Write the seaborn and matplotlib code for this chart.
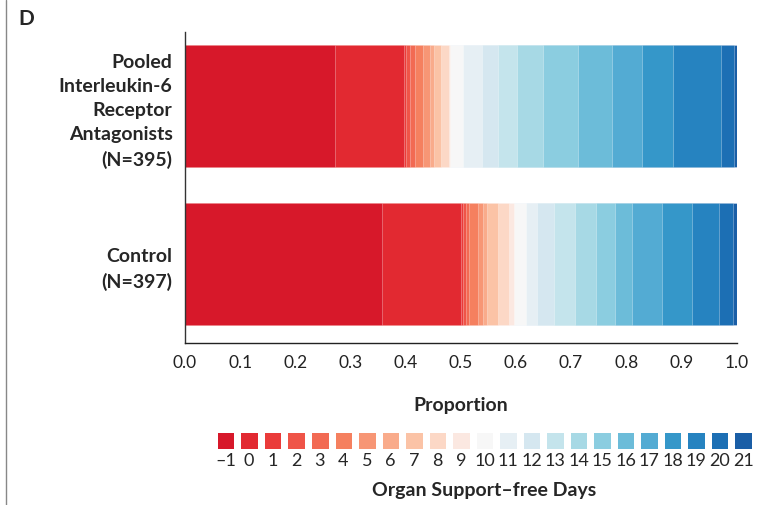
"""
堆叠条形图: 器官支持-free天数分布 (面板 D)
"""
import numpy as np
import pandas as pd
import seaborn as sns
import matplotlib
matplotlib.use('Agg')
import matplotlib.pyplot as plt
from matplotlib.colors import ListedColormap
from matplotlib.lines import Line2D

# ==================== 数据 ====================
groups = ["Pooled\nInterleukin-6\nReceptor\nAntagonists\n(N=395)", "Control\n(N=397)"]
days = list(range(-1, 22))
day_labels = ["–1"] + [str(d) for d in range(0, 22)]

# 每个天数类别所占比例
prop_il6 = [0.2725, 0.1237, 0.0045, 0.0067, 0.0102, 0.0140, 0.0121, 0.0078,
            0.0122, 0.0141, 0.0027, 0.0241, 0.0334, 0.0301, 0.0334, 0.0482,
            0.0634, 0.0617, 0.0533, 0.0562, 0.0876, 0.0241, 0.0040]
prop_control = [0.3567, 0.1438, 0.0042, 0.0043, 0.0065, 0.0163, 0.0080, 0.0083,
                0.0200, 0.0194, 0.0096, 0.0212, 0.0205, 0.0303, 0.0381, 0.0375,
                0.0350, 0.0314, 0.0533, 0.0544, 0.0495, 0.0259, 0.0058]

# ==================== 样式 ====================
colors = ["#d7182a", "#e22931", "#ea3b3a", "#ef5448", "#f26a53", "#f5805f",
          "#f79675", "#f9ab8b", "#fbc3a6", "#fcd8c6", "#fbe8e1", "#f7f7f7",
          "#e6eff4", "#d5e7f0", "#c4e4ec", "#a7d9e5", "#8bcde0", "#6cbcd9",
          "#53abd3", "#3597c9", "#2683c0", "#1c6fb4", "#1a5ea6"]

sns.set_style("white")
plt.rcParams['font.family'] = ['Lato', 'DejaVu Sans']
plt.rcParams['axes.linewidth'] = 1.0

# 长表 + 累积比例
df = pd.DataFrame({
    "group": np.repeat(groups, len(days)),
    "day": days * 2,
    "prop": prop_il6 + prop_control,
})
df["cum"] = df.groupby("group", sort=False)["prop"].cumsum()

fig = plt.figure(figsize=(7.69, 5.05), dpi=100)
ax = fig.add_axes([185 / 769, 1 - 343 / 505, 551.5 / 769, 311 / 505])

# 从最后一类开始画, 较短的累积条覆盖在上面
for i in reversed(range(len(days))):
    sub = df[df["day"] == days[i]]
    sns.barplot(data=sub, x="cum", y="group", order=groups, color=colors[i],
                orient="h", width=0.772, saturation=1, ax=ax,
                edgecolor=(1, 1, 1, 0.35), linewidth=0.6)

ax.set_xlim(0, 1)
ax.set_ylim(1.5, -0.468)
ax.set_xticks(np.linspace(0, 1, 11))
ax.set_xticklabels([f"{v:.1f}" for v in np.linspace(0, 1, 11)], fontsize=12.5)
ax.set_yticks([0, 1])
ax.set_yticklabels(groups, fontsize=14, fontweight='bold', multialignment='right',
                   linespacing=1.5)
ax.tick_params(axis='y', length=0, pad=9)
ax.tick_params(axis='x', length=5, width=1, direction='out', pad=4, colors='#222222')
ax.set_ylabel("")
ax.set_xlabel("Proportion", fontsize=14, fontweight='bold', labelpad=18)
sns.despine(ax=ax, top=True, right=True)
ax.spines['left'].set_color('#333333')
ax.spines['bottom'].set_color('#222222')

# 图例: 用一行热图画色块
lax = fig.add_axes([213.9 / 769, 1 - 452 / 505, 541 / 769, 23 / 505])
sns.heatmap(np.arange(len(days)).reshape(1, -1), cmap=ListedColormap(colors),
            cbar=False, linewidths=4.7, linecolor='white',
            xticklabels=day_labels, yticklabels=False, ax=lax)
lax.tick_params(axis='x', length=0, pad=1, labelsize=13, rotation=0)
lax.set_xlabel("Organ Support–free Days", fontsize=14, fontweight='bold', labelpad=9)

# 面板字母和左侧分隔线
fig.text(18 / 769, 1 - 19 / 505, "D", fontsize=15, fontweight='bold', va='center')
fig.add_artist(Line2D([6 / 769, 6 / 769], [0, 1], color='#888888', linewidth=1))

fig.savefig("out.png", dpi=100)
plt.close('all')
